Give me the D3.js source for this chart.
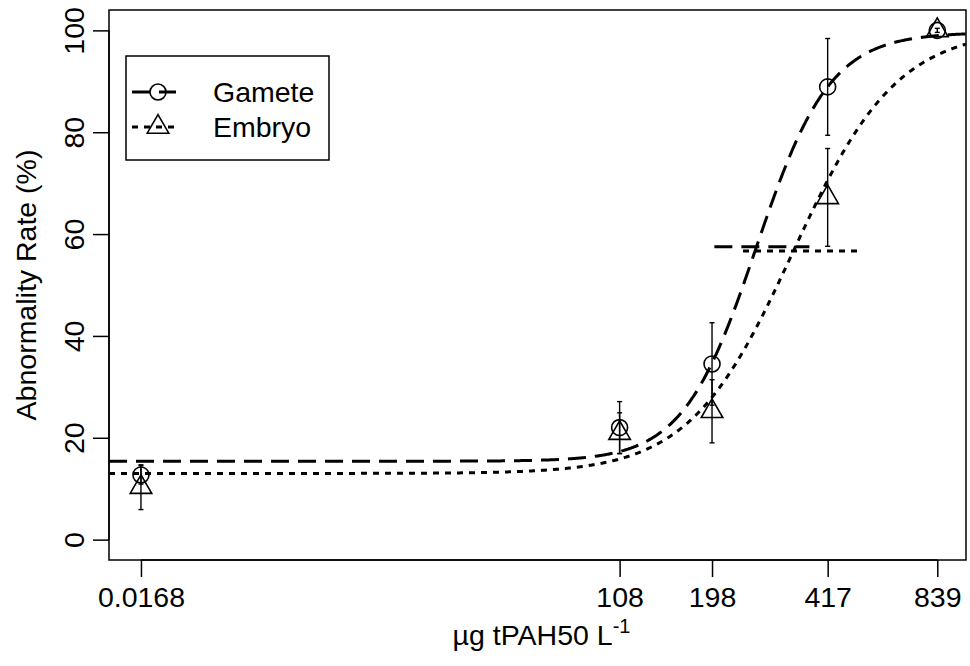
<!DOCTYPE html>
<html>
<head>
<meta charset="utf-8">
<script src="https://cdn.jsdelivr.net/npm/d3@7"></script>
<style>
  html, body { margin: 0; padding: 0; background: #fff; }
  svg { display: block; }
  text { font-family: "Liberation Sans", Arial, sans-serif; fill: #000; }
</style>
</head>
<body>
<div id="chart"></div>
<script>
// ---- data ----
const concentrations = [0.0168, 108, 198, 417, 839];
const xTickLabels = ["0.0168", "108", "198", "417", "839"];
const yTicks = [0, 20, 40, 60, 80, 100];
const seriesNames = ["Gamete", "Embryo"];
const gameteMean = [12.7, 22.0, 34.5, 88.9, 100];
const gameteErr  = [1.8, 5.1, 8.1, 9.5, 0.4];
const embryoMean = [10.3, 20.9, 25.2, 67.2, 100];
const embryoErr  = [4.4, 4.0, 6.2, 9.6, 0];
// four-parameter log-logistic fits: slope b, lower c, upper d, EC50 e
const gameteFit = {b: 4.22, c: 15.4, d: 99.6, e: 264};
const embryoFit = {b: 3.0, c: 13.0, d: 100.4, e: 335};
// EC50 interval segments (concentration range)
const gameteEC50Range = [201, 371];
const embryoEC50Range = [242, 513];

// ---- layout ----
const W = 970, H = 666;
const mL = 109, mR = 966, mT = 10, mB = 560;
const FS = 28.5;

const svg = d3.select("#chart").append("svg").attr("width", W).attr("height", H);

const x = d3.scaleSymlog().constant(5.5).domain([-1.21, 1007]).range([mL, mR]);
const y = d3.scaleLinear().domain([-4, 104]).range([mB, mT]);

svg.append("clipPath").attr("id", "plotclip")
  .append("rect").attr("x", mL).attr("y", mT).attr("width", mR - mL).attr("height", mB - mT);

const plot = svg.append("g").attr("clip-path", "url(#plotclip)");

function ll4(p, c) {
  if (c <= 0) return p.c;
  return p.c + (p.d - p.c) / (1 + Math.pow(p.e / c, p.b));
}

function curvePoints(p) {
  const pts = [];
  for (let px = mL; px <= mR; px += 1) {
    const c = x.invert(px);
    pts.push([c, ll4(p, c)]);
  }
  return pts;
}

const line = d3.line().x(d => x(d[0])).y(d => y(d[1]));

const styles = {
  Gamete: {dash: "18,9", fit: gameteFit, mean: gameteMean, err: gameteErr, range: gameteEC50Range, symbol: "circle"},
  Embryo: {dash: "6,6", fit: embryoFit, mean: embryoMean, err: embryoErr, range: embryoEC50Range, symbol: "triangle"}
};

const R = 8;
function drawSymbol(g, kind, cx, cy) {
  if (kind === "circle") {
    g.append("circle").attr("cx", cx).attr("cy", cy).attr("r", R)
      .attr("fill", "none").attr("stroke", "#000").attr("stroke-width", 1.6);
  } else {
    const r = 1.555 * R, xc = 1.347 * R, yc = 0.778 * R;
    g.append("path")
      .attr("d", `M${cx},${cy - r}L${cx + xc},${cy + yc}L${cx - xc},${cy + yc}Z`)
      .attr("fill", "none").attr("stroke", "#000").attr("stroke-width", 1.6);
  }
}

seriesNames.forEach(name => {
  const s = styles[name];
  // error bars
  concentrations.forEach((c, i) => {
    if (s.err[i] <= 0) return;
    const cx = x(c), y1 = y(s.mean[i] - s.err[i]), y2 = y(s.mean[i] + s.err[i]);
    const g = plot.append("g").attr("stroke", "#000").attr("stroke-width", 1.4);
    g.append("line").attr("x1", cx).attr("x2", cx).attr("y1", y1).attr("y2", y2);
    g.append("line").attr("x1", cx - 2.5).attr("x2", cx + 2.5).attr("y1", y1).attr("y2", y1);
    g.append("line").attr("x1", cx - 2.5).attr("x2", cx + 2.5).attr("y1", y2).attr("y2", y2);
  });
  // points
  concentrations.forEach((c, i) => drawSymbol(plot, s.symbol, x(c), y(s.mean[i])));
  // fitted curve
  plot.append("path").datum(curvePoints(s.fit)).attr("d", line)
    .attr("fill", "none").attr("stroke", "#000").attr("stroke-width", 3)
    .attr("stroke-dasharray", s.dash);
  // EC50 interval at the midpoint response
  const mid = (s.fit.c + s.fit.d) / 2;
  plot.append("line")
    .attr("x1", x(s.range[0])).attr("x2", x(s.range[1]))
    .attr("y1", y(mid)).attr("y2", y(mid))
    .attr("stroke", "#000").attr("stroke-width", 3).attr("stroke-dasharray", s.dash);
});

// box
svg.append("rect").attr("x", mL).attr("y", mT).attr("width", mR - mL).attr("height", mB - mT)
  .attr("fill", "none").attr("stroke", "#000").attr("stroke-width", 1.5);

// x axis
const xAxis = d3.axisBottom(x).tickValues(concentrations)
  .tickFormat((d, i) => xTickLabels[i]).tickSize(17).tickPadding(7);
const gx = svg.append("g").attr("transform", `translate(0,${mB})`).call(xAxis);
gx.select(".domain").attr("d", `M${x(concentrations[0])},0H${x(concentrations[concentrations.length - 1])}`)
  .attr("stroke-width", 1.5);
gx.selectAll(".tick line").attr("stroke-width", 1.5);
gx.selectAll(".tick text").attr("font-size", FS).attr("font-family", '"Liberation Sans", Arial, sans-serif')
  .attr("dy", "0.82em");

// y axis
const yAxis = d3.axisLeft(y).tickValues(yTicks).tickSize(16).tickPadding(0).tickFormat(d3.format("d"));
const gy = svg.append("g").attr("transform", `translate(${mL},0)`).call(yAxis);
gy.select(".domain").attr("d", `M0,${y(0)}V${y(100)}`).attr("stroke-width", 1.5);
gy.selectAll(".tick line").attr("stroke-width", 1.5);
gy.selectAll(".tick text").attr("font-size", FS).attr("font-family", '"Liberation Sans", Arial, sans-serif')
  .attr("text-anchor", "middle").attr("x", null).attr("dy", null)
  .attr("transform", "translate(-25,0) rotate(-90)");

// axis titles
const xt = svg.append("text").attr("x", (mL + mR) / 2 + 4).attr("y", 645)
  .attr("text-anchor", "middle").attr("font-size", FS);
xt.append("tspan").text("µg tPAH50 L");
xt.append("tspan").text("-1").attr("font-size", 20).attr("dy", -12);

svg.append("text").attr("transform", `translate(36,${(mT + mB) / 2}) rotate(-90)`)
  .attr("text-anchor", "middle").attr("font-size", FS).text("Abnormality Rate (%)");

// legend
const lg = svg.append("g");
lg.append("rect").attr("x", 126).attr("y", 56).attr("width", 203).attr("height", 104)
  .attr("fill", "#fff").attr("stroke", "#000").attr("stroke-width", 1.5);
seriesNames.forEach((name, i) => {
  const s = styles[name];
  const ly = 92 + i * 35;
  lg.append("line").attr("x1", 132).attr("x2", 176).attr("y1", ly).attr("y2", ly)
    .attr("stroke", "#000").attr("stroke-width", 3).attr("stroke-dasharray", s.dash);
  drawSymbol(lg, s.symbol, 158, ly);
  lg.append("text").attr("x", 213).attr("y", ly).attr("dy", "0.35em").attr("font-size", FS).text(name);
});
</script>
</body>
</html>
